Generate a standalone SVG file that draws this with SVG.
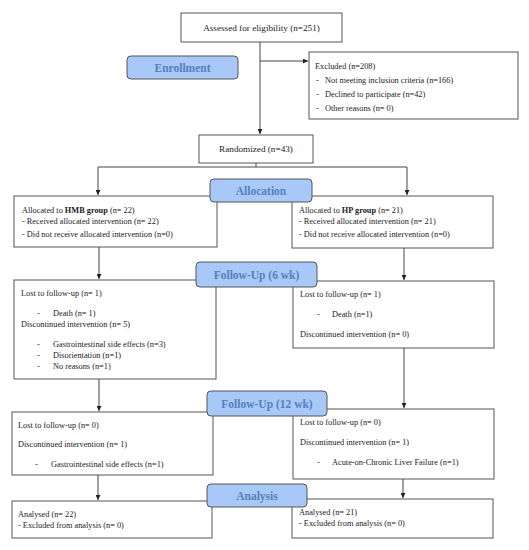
<svg xmlns="http://www.w3.org/2000/svg" width="529" height="550" viewBox="0 0 529 550">
<defs>
<marker id="ah" viewBox="0 0 6 6" refX="6" refY="3" markerWidth="5" markerHeight="5" orient="auto" markerUnits="userSpaceOnUse">
<path d="M0,0 L6,3 L0,6 Z" fill="#222"/>
</marker>
<style>
.box{fill:#fff;stroke:#555;stroke-width:1}
.hdr{fill:#a8c8f8;stroke:#555;stroke-width:1}
.t{font-family:"Liberation Serif","DejaVu Serif",serif;font-size:8.3px;fill:#222}
.tc{font-family:"Liberation Serif","DejaVu Serif",serif;font-size:9.2px;fill:#222;text-anchor:middle}
.h{font-family:"Liberation Serif","DejaVu Serif",serif;font-size:11.5px;font-weight:bold;fill:#5580bb;text-anchor:middle}
.ln{fill:none;stroke:#444;stroke-width:1}
</style>
</defs>
<rect width="529" height="550" fill="#fff"/>
<g id="connectors">
<path class="ln" d="M260,42 V134" marker-end="url(#ah)"/>
<path class="ln" d="M260,61 H308" marker-end="url(#ah)"/>
<path class="ln" d="M256,163 V167"/>
<path class="ln" d="M98,167 H407"/>
<path class="ln" d="M98,167 V195" marker-end="url(#ah)"/>
<path class="ln" d="M407,167 V195" marker-end="url(#ah)"/>
<path class="ln" d="M99,247 V279" marker-end="url(#ah)"/>
<path class="ln" d="M404,248 V280" marker-end="url(#ah)"/>
<path class="ln" d="M99,379 V411" marker-end="url(#ah)"/>
<path class="ln" d="M404,348 V408" marker-end="url(#ah)"/>
<path class="ln" d="M98,475 V500" marker-end="url(#ah)"/>
<path class="ln" d="M403,479 V498" marker-end="url(#ah)"/>
</g>
<g id="assessed">
<rect class="box" x="181" y="13" width="161" height="29"/>
<text class="tc" x="261.5" y="30.5">Assessed for eligibility (n=251)</text>
</g>
<g id="enrollment">
<rect class="hdr" x="127" y="56" width="111" height="23" rx="4"/>
<text class="h" x="182.5" y="71.5">Enrollment</text>
</g>
<g id="excluded">
<rect class="box" x="309" y="52" width="209" height="67"/>
<text class="t" x="315" y="68.5">Excluded (n=208)</text>
<text class="t" x="316" y="82.5">-</text><text class="t" x="325" y="82.5">Not meeting inclusion criteria (n=166)</text>
<text class="t" x="316" y="96.5">-</text><text class="t" x="325" y="96.5">Declined to participate (n=42)</text>
<text class="t" x="316" y="110.5">-</text><text class="t" x="325" y="110.5">Other reasons (n= 0)</text>
</g>
<g id="randomized">
<rect class="box" x="199" y="135" width="114" height="28"/>
<text class="tc" x="256" y="152">Randomized (n=43)</text>
</g>
<g id="hmb-alloc">
<rect class="box" x="14" y="196" width="203" height="51"/>
<text class="t" x="22" y="212.5">Allocated to <tspan font-weight="bold">HMB group</tspan> (n= 22)</text>
<text class="t" x="22" y="224">- Received allocated intervention (n= 22)</text>
<text class="t" x="22" y="237">- Did not receive allocated intervention (n=0)</text>
</g>
<g id="hp-alloc">
<rect class="box" x="292" y="196" width="201" height="52"/>
<text class="t" x="299" y="212.5">Allocated to <tspan font-weight="bold">HP group</tspan> (n= 21)</text>
<text class="t" x="299" y="224">- Received allocated intervention (n= 21)</text>
<text class="t" x="299" y="237">- Did not receive allocated intervention (n=0)</text>
</g>
<g id="allocation">
<rect class="hdr" x="210" y="179" width="102" height="23" rx="4"/>
<text class="h" x="261" y="194.5">Allocation</text>
</g>
<g id="hmb-fu6">
<rect class="box" x="14" y="280" width="202" height="99"/>
<text class="t" x="21" y="296">Lost to follow-up (n= 1)</text>
<text class="t" x="37" y="316">-</text><text class="t" x="53" y="316">Death (n= 1)</text>
<text class="t" x="21" y="326.5">Discontinued intervention (n= 5)</text>
<text class="t" x="37" y="347">-</text><text class="t" x="53" y="347">Gastrointestinal side effects (n=3)</text>
<text class="t" x="37" y="358">-</text><text class="t" x="53" y="358">Disorientation (n=1)</text>
<text class="t" x="37" y="369">-</text><text class="t" x="53" y="369">No reasons (n=1)</text>
</g>
<g id="hp-fu6">
<rect class="box" x="293" y="281" width="201" height="67"/>
<text class="t" x="300" y="297">Lost to follow-up (n= 1)</text>
<text class="t" x="317" y="317">-</text><text class="t" x="332" y="317">Death (n=1)</text>
<text class="t" x="300" y="337">Discontinued intervention (n= 0)</text>
</g>
<g id="followup6">
<rect class="hdr" x="196" y="262" width="121" height="25" rx="4"/>
<text class="h" x="256.5" y="278.5">Follow-Up (6 wk)</text>
</g>
<g id="hmb-fu12">
<rect class="box" x="12" y="412" width="201" height="63"/>
<text class="t" x="18" y="428">Lost to follow-up (n= 0)</text>
<text class="t" x="18" y="447">Discontinued intervention (n= 1)</text>
<text class="t" x="35" y="467">-</text><text class="t" x="51" y="467">Gastrointestinal side effects (n=1)</text>
</g>
<g id="hp-fu12">
<rect class="box" x="293" y="409" width="201" height="70"/>
<text class="t" x="300" y="425">Lost to follow-up (n= 0)</text>
<text class="t" x="300" y="445">Discontinued intervention (n= 1)</text>
<text class="t" x="317" y="465">-</text><text class="t" x="332" y="465">Acute-on-Chronic Liver Failure (n=1)</text>
</g>
<g id="followup12">
<rect class="hdr" x="207" y="391" width="120" height="25" rx="4"/>
<text class="h" x="267" y="407.5">Follow-Up (12 wk)</text>
</g>
<g id="hmb-analysis">
<rect class="box" x="12" y="501" width="200" height="37"/>
<text class="t" x="18" y="517">Analysed (n= 22)</text>
<text class="t" x="18" y="528">- Excluded from analysis (n= 0)</text>
</g>
<g id="hp-analysis">
<rect class="box" x="292" y="499" width="201" height="39"/>
<text class="t" x="299" y="515">Analysed (n= 21)</text>
<text class="t" x="299" y="526">- Excluded from analysis (n= 0)</text>
</g>
<g id="analysis">
<rect class="hdr" x="207" y="484" width="100" height="23" rx="4"/>
<text class="h" x="257" y="499.5">Analysis</text>
</g>
</svg>
